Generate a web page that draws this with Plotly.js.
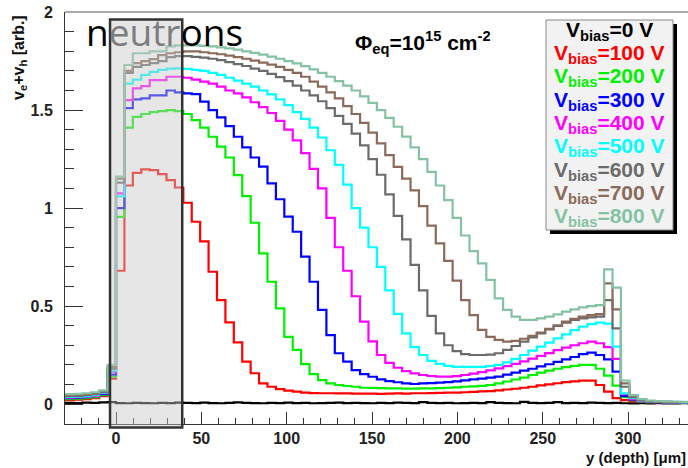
<!DOCTYPE html>
<html><head><meta charset="utf-8">
<script src="https://cdn.plot.ly/plotly-3.0.1.min.js"></script>
<style>html,body{margin:0;padding:0;background:#fff;overflow:hidden}#chart{width:688px;height:468px}</style>
</head><body><div id="chart"></div>
<script>
// ---------------- data ----------------
const binWidth = 4.93;          // um, histogram bin width
const firstBinIndex = -7;       // first bin starts at firstBinIndex*binWidth
const voltages = [0, 100, 200, 300, 400, 500, 600, 700, 800];

const v0 = [0.006,0.006,0.005,0.007,0.006,0.008,0.01,
 0.005,0.004,0.006,0.005,0.004,0.006,0.005,0.007,
 0.006,0.005,0.007,0.005,0.004,0.006,0.008,0.006,0.005,0.004,0.006,0.005,0.007,0.005,0.006,0.004,0.005,0.006,0.007,0.005,0.006,0.005,0.004,0.006,0.005,0.007,0.006,0.005,0.01,0.006,0.005,0.006,0.004,0.005,0.006,
 0.005,0.01,0.006,0.005,0.004,0.011,0.006,0.005,0.006,0.01,0.005,0.006,0.005,0.007,0.006,
 0.005,0.006,0.004,0.003,0.004,0.003,0.004,0.003,0.003,0.004,0.003];
const v100 = [0.02,0.02,0.022,0.025,0.03,0.04,0.13,
 0.68,1.115,1.18,1.197,1.194,1.173,1.143,1.105,
 1.027,0.93,0.83,0.675,0.53,0.417,0.315,0.216,0.157,
 0.105,0.088,0.076,0.068,0.063,0.058,0.056,0.055,0.055,0.054,0.054,0.053,0.053,
 0.053,0.052,0.053,0.054,0.053,0.055,0.055,0.056,0.057,0.058,0.058,0.06,0.062,
 0.064,0.066,0.07,0.074,0.078,0.083,0.088,0.095,0.1,0.106,0.112,0.116,0.119,0.119,0.097,
 0.063,0.03,0.02,0.015,0.012,0.01,0.01,0.008,0.008,0.007,0.007];
const v200 = [0.025,0.025,0.028,0.03,0.035,0.045,0.14,
 0.955,1.41,1.465,1.48,1.49,1.495,1.5,1.495,
 1.48,1.449,1.41,1.364,1.313,1.258,1.168,1.061,0.925,0.769,
 0.624,0.488,0.343,0.276,0.204,0.153,0.122,0.105,0.097,0.092,0.088,0.083,
 0.082,0.081,0.08,0.08,0.079,0.079,0.08,0.08,0.081,0.083,0.085,0.088,0.09,
 0.093,0.097,0.105,0.115,0.125,0.135,0.148,0.16,0.17,0.18,0.188,0.195,0.2,0.2,0.18,
 0.145,0.094,0.035,0.02,0.012,0.01,0.009,0.008,0.008,0.007,0.007];
const v300 = [0.03,0.03,0.032,0.035,0.04,0.05,0.15,
 1.0,1.51,1.555,1.56,1.575,1.575,1.6,1.59,
 1.585,1.581,1.543,1.5,1.463,1.418,1.364,1.31,1.258,1.211,1.126,1.045,0.956,
 0.879,0.752,0.624,0.48,0.352,0.259,0.216,0.173,0.153,0.139,0.126,0.117,0.111,
 0.105,0.102,0.105,0.107,0.109,0.112,0.116,0.121,0.126,
 0.13,0.135,0.14,0.15,0.16,0.17,0.18,0.192,0.203,0.215,0.228,0.24,0.255,0.262,0.25,
 0.228,0.165,0.04,0.022,0.014,0.011,0.01,0.009,0.008,0.008,0.007];
const v400 = [0.032,0.033,0.035,0.038,0.042,0.055,0.165,
 1.075,1.551,1.611,1.622,1.653,1.653,1.67,1.67,
 1.665,1.655,1.645,1.635,1.62,1.6,1.585,1.565,1.54,1.515,1.485,1.445,1.4,1.345,1.28,1.2,1.1,0.95,0.8,
 0.68,0.55,0.42,0.32,0.25,0.21,0.185,0.168,0.156,0.148,0.143,0.14,0.14,0.142,0.148,0.155,
 0.163,0.172,0.182,0.193,0.205,0.218,0.232,0.246,0.26,0.275,0.288,0.3,0.31,0.318,0.31,
 0.29,0.23,0.05,0.025,0.015,0.012,0.01,0.009,0.008,0.008,0.007];
const v500 = [0.035,0.036,0.038,0.04,0.045,0.058,0.17,
 1.06,1.635,1.655,1.68,1.695,1.705,1.712,1.713,
 1.71,1.705,1.7,1.69,1.68,1.665,1.65,1.635,1.62,1.6,1.58,1.555,1.525,1.49,1.455,1.41,1.36,1.295,1.22,1.12,
 1.0,0.9,0.8,0.7,0.58,0.46,0.36,0.29,0.25,0.22,0.205,0.195,0.19,0.19,0.19,
 0.19,0.194,0.2,0.212,0.23,0.25,0.272,0.293,0.313,0.335,0.355,0.377,0.395,0.408,0.415,
 0.41,0.293,0.054,0.03,0.018,0.013,0.011,0.01,0.009,0.008,0.008];
const v600 = [0.04,0.04,0.042,0.045,0.05,0.062,0.18,
 1.13,1.69,1.72,1.73,1.74,1.75,1.77,1.775,
 1.775,1.772,1.768,1.762,1.755,1.745,1.735,1.725,1.712,1.7,1.685,1.668,1.648,1.625,1.6,1.575,1.545,1.51,1.47,1.43,
 1.38,1.32,1.25,1.17,1.07,0.96,0.84,0.71,0.58,0.45,0.36,0.3,0.27,0.255,0.25,
 0.25,0.252,0.259,0.276,0.296,0.318,0.34,0.36,0.381,0.398,0.415,0.429,0.437,0.442,0.446,
 0.53,0.386,0.088,0.035,0.02,0.014,0.012,0.011,0.01,0.009,0.009];
const v700 = [0.045,0.045,0.047,0.05,0.055,0.066,0.19,
 1.15,1.70,1.74,1.75,1.76,1.78,1.79,1.795,
 1.8,1.8,1.795,1.79,1.785,1.778,1.77,1.762,1.752,1.742,1.732,1.72,1.705,1.69,1.67,1.645,1.62,1.59,1.56,1.52,
 1.48,1.435,1.385,1.33,1.27,1.21,1.15,1.09,1.01,0.91,0.82,0.73,0.63,0.53,0.454,
 0.378,0.343,0.327,0.318,0.322,0.333,0.348,0.365,0.384,0.402,0.42,0.434,0.446,0.454,0.459,
 0.616,0.483,0.105,0.04,0.022,0.015,0.012,0.011,0.01,0.01,0.009];
const v800 = [0.05,0.05,0.052,0.055,0.06,0.07,0.2,
 1.16,1.73,1.79,1.79,1.80,1.80,1.825,1.83,
 1.83,1.83,1.828,1.825,1.82,1.815,1.808,1.8,1.792,1.783,1.773,1.762,1.75,1.738,1.724,1.708,1.69,1.67,1.648,1.625,
 1.6,1.57,1.537,1.5,1.46,1.415,1.365,1.31,1.25,1.185,1.115,1.04,0.95,0.86,0.78,
 0.718,0.633,0.539,0.48,0.446,0.429,0.429,0.437,0.446,0.457,0.471,0.483,0.493,0.5,0.505,
 0.687,0.594,0.12,0.045,0.025,0.018,0.015,0.013,0.012,0.011,0.01];

const xTickValues = [0, 50, 100, 150, 200, 250, 300];
const yTickValues = [0, 0.5, 1, 1.5, 2];
const yTickLabels = ['0', '0.5', '1', '1.5', '2'];
const fluenceText = '\u03A6<sub>eq</sub>=10<sup>15</sup> cm<sup>-2</sup>';
const xTitle = 'y (depth) [\u03BCm]';
const yTitle = 'v<sub>e</sub>+v<sub>h</sub> [arb.]';

// ---------------- styling / build ----------------
const series = [v0, v100, v200, v300, v400, v500, v600, v700, v800];
const colors = ['#000000', '#ff0000', '#00f000', '#0000ff', '#ff00ff', '#00ffff', '#6b6b6b', '#8a6a5a', '#85c2a3'];
const W = 688, H = 468;
const M = {l: 65, r: 0, t: 12, b: 44};
const PW = W - M.l - M.r, PH = H - M.t - M.b;
const px = p => (p - M.l) / PW;
const py = p => (H - M.b - p) / PH;
const FONT = 'Liberation Sans, Arial, Helvetica, sans-serif';

const nBins = series[0].length;
const edges = [];
for (let i = 0; i <= nBins; i++) edges.push((firstBinIndex + i) * binWidth);

const traces = series.map((vals, i) => ({
  x: edges,
  y: vals.concat([vals[vals.length - 1]]),
  mode: 'lines',
  line: {shape: 'hv', color: colors[i], width: 2.2},
  hoverinfo: 'skip',
  showlegend: false,
  cliponaxis: true
}));

const annotations = [];
annotations.push({
  xref: 'paper', yref: 'paper', x: px(84), y: py(32), xanchor: 'left', yanchor: 'middle',
  text: 'n<span style="color:#7d7d7d">eutr</span>ons', showarrow: false,
  font: {family: 'Open Sans, sans-serif', size: 37, color: '#000'}
});
annotations.push({
  xref: 'paper', yref: 'paper', x: px(353), y: py(43), xanchor: 'left', yanchor: 'middle',
  text: fluenceText, showarrow: false,
  font: {family: FONT, size: 21, color: '#000', weight: 700}
});
const legendY = [28.5, 52, 75.3, 98.6, 122, 145.3, 168.6, 192, 215.3];
voltages.forEach((v, i) => {
  annotations.push({
    xref: 'paper', yref: 'paper', x: px(609.5), y: py(legendY[i] + 2), xanchor: 'center', yanchor: 'middle',
    text: 'V<sub>bias</sub>=' + v + ' V', showarrow: false,
    font: {family: FONT, size: 21, color: colors[i], weight: 700}
  });
});
annotations.push({
  xref: 'paper', yref: 'paper', x: px(20), y: py(58), xanchor: 'center', yanchor: 'middle',
  text: yTitle, textangle: -90, showarrow: false,
  font: {family: FONT, size: 16, color: '#111', weight: 700}
});
annotations.push({
  xref: 'paper', yref: 'paper', x: 1, y: py(457), xanchor: 'right', yanchor: 'middle',
  text: xTitle, showarrow: false,
  font: {family: FONT, size: 15, color: '#111', weight: 700}
});

const shapes = [
  {type: 'line', xref: 'paper', yref: 'paper', x0: 0, x1: 1, y0: 1, y1: 1, line: {color: '#555', width: 1}, layer: 'above'},
  {type: 'rect', xref: 'x', yref: 'paper', x0: -3.5, x1: 38.8, y0: py(427.5), y1: py(19.5),
   fillcolor: 'rgba(200,200,200,0.45)', line: {color: '#333', width: 2.5}, layer: 'above'},
  {type: 'rect', xref: 'paper', yref: 'paper', x0: px(550), x1: px(677), y0: py(234), y1: py(24),
   fillcolor: '#000', line: {width: 0}, layer: 'above'},
  {type: 'rect', xref: 'paper', yref: 'paper', x0: px(546), x1: px(673), y0: py(230), y1: py(20),
   fillcolor: '#f2f2f2', line: {color: '#888', width: 1}, layer: 'above'}
];

const layout = {
  width: W, height: H,
  margin: M,
  paper_bgcolor: '#fff', plot_bgcolor: '#fff',
  showlegend: false,
  xaxis: {
    range: [(M.l - 116) / 1.707, (W - M.r - 116) / 1.707],
    tickmode: 'array', tickvals: xTickValues, ticktext: xTickValues.map(String),
    ticks: 'inside', ticklen: 12, tickwidth: 1, tickcolor: '#333',
    minor: {dtick: 10, tick0: 0, ticks: 'inside', ticklen: 6, tickwidth: 1, tickcolor: '#333', showgrid: false},
    showline: true, linecolor: '#333', linewidth: 1, mirror: false,
    showgrid: false, zeroline: false, ticklabelstandoff: 0,
    tickfont: {family: FONT, size: 16, color: '#222', weight: 700}
  },
  yaxis: {
    range: [-0.102, 2.0005],
    tickmode: 'array', tickvals: yTickValues, ticktext: yTickLabels,
    ticks: 'inside', ticklen: 18, tickwidth: 1, tickcolor: '#333',
    minor: {dtick: 0.1, tick0: 0, ticks: 'inside', ticklen: 9, tickwidth: 1, tickcolor: '#333', showgrid: false},
    showline: true, linecolor: '#333', linewidth: 1, mirror: false,
    showgrid: false, zeroline: false, ticklabelstandoff: 8,
    tickfont: {family: FONT, size: 16, color: '#222', weight: 700}
  },
  shapes: shapes,
  annotations: annotations
};

Plotly.newPlot('chart', traces, layout, {staticPlot: true, displayModeBar: false});
</script>
</body></html>
